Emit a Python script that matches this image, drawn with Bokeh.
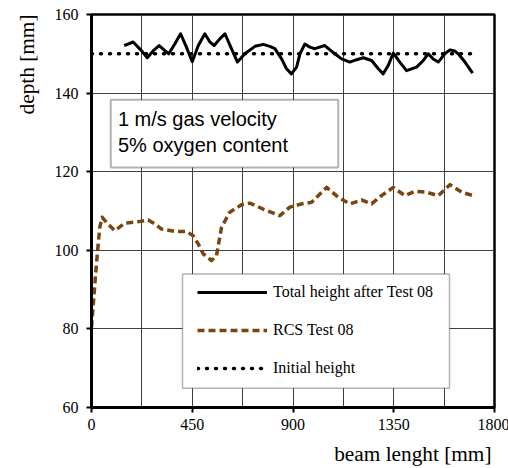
from bokeh.plotting import figure
from bokeh.models import (Range1d, FixedTicker, Label, BoxAnnotation, Legend, LegendItem, Title)
from bokeh.embed import file_html
from bokeh.resources import INLINE

# ---- data ----
total_x = [146, 186, 223, 249, 276, 302, 328, 345, 372, 398, 424, 450, 477, 506, 529,
           548, 573, 596, 625, 652, 685, 730, 767, 797, 819, 849, 871, 893, 916, 931,
           953, 975, 998, 1042, 1087, 1117, 1154, 1184, 1214, 1251, 1281, 1303, 1325,
           1348, 1377, 1407, 1452, 1482, 1504, 1526, 1549, 1578, 1601, 1623, 1638,
           1668, 1702]
total_y = [152.1, 153.0, 150.8, 149.0, 150.8, 152.1, 150.8, 150.0, 152.5, 155.1, 151.7,
           148.0, 152.1, 155.1, 153.0, 152.1, 153.8, 155.1, 151.3, 147.9, 150.0, 151.9,
           152.4, 151.9, 151.3, 148.7, 146.2, 144.9, 146.6, 150.0, 152.5, 151.7, 151.3,
           152.1, 150.0, 148.7, 147.9, 148.5, 149.0, 148.3, 146.2, 144.9, 147.0, 150.2,
           147.9, 145.7, 146.6, 148.3, 150.0, 148.7, 147.9, 150.0, 151.0, 150.7, 150.0,
           147.9, 145.1]

rcs_x = [0, 7, 15, 22, 30, 37, 48, 67, 104, 149, 201, 253, 283, 313, 372, 424, 454,
         477, 499, 536, 558, 581, 618, 670, 707, 767, 841, 886, 938, 983, 1020, 1050,
         1102, 1154, 1206, 1251, 1295, 1348, 1400, 1444, 1496, 1549, 1601, 1653, 1705]
rcs_y = [80.4, 85.5, 91.4, 96.5, 101.6, 105.9, 108.4, 107.1, 105.0, 106.9, 107.2, 107.7,
         106.7, 105.4, 104.8, 104.8, 103.7, 101.6, 99.1, 97.4, 98.6, 105.9, 109.7, 111.6,
         112.0, 110.5, 108.8, 111.0, 111.8, 112.2, 114.3, 116.0, 113.5, 111.8, 112.8,
         111.8, 113.9, 116.0, 113.9, 115.0, 114.8, 113.9, 116.7, 114.8, 113.9]

initial_x = [0, 1700]
initial_y = [150, 150]

x_ticks = [0, 450, 900, 1350, 1800]
x_grid = [225, 450, 675, 900, 1125, 1350, 1575]
y_ticks = [60, 80, 100, 120, 140, 160]

series_names = ["Total height after Test 08", "RCS Test 08", "Initial height"]
box_text = "1 m/s gas velocity\n5% oxygen content"
x_title = "beam lenght [mm]"
y_title = "depth [mm]"

SERIF = "Liberation Serif"

p = figure(width=508, height=468, output_backend="svg", toolbar_location=None,
           x_range=Range1d(0, 1800), y_range=Range1d(60, 160),
           frame_width=403, frame_height=393,
           min_border_left=90, min_border_top=14, min_border_right=15, min_border_bottom=61)

p.background_fill_color = "white"
p.border_fill_color = "white"
p.outline_line_color = "black"
p.outline_line_width = 2.5

for ax in (p.xaxis[0], p.yaxis[0]):
    ax.axis_line_width = 3
    ax.axis_line_color = "black"
    ax.major_tick_line_width = 2
    ax.major_tick_line_color = "black"
    ax.major_tick_out = 5
    ax.major_tick_in = 0
    ax.minor_tick_line_color = None
    ax.major_label_text_font = SERIF
    ax.major_label_text_font_size = "16px"
    ax.major_label_text_color = "black"

p.xaxis[0].ticker = FixedTicker(ticks=x_ticks)
p.yaxis[0].ticker = FixedTicker(ticks=y_ticks)
p.xaxis[0].major_label_standoff = 6
p.yaxis[0].major_label_standoff = 8

p.xgrid[0].ticker = FixedTicker(ticks=x_grid)
p.ygrid[0].ticker = FixedTicker(ticks=y_ticks)
for g in (p.xgrid[0], p.ygrid[0]):
    g.grid_line_color = "#404040"
    g.grid_line_width = 1

r_total = p.line(total_x, total_y, line_color="black", line_width=3, line_join="round")
r_rcs = p.line(rcs_x, rcs_y, line_color="#7a4510", line_width=3.5, line_dash="7 4",
               line_join="round")
r_init = p.line(initial_x, initial_y, line_color="black", line_width=3.5, line_dash="1 8",
                line_cap="round")

# legend frame
p.add_layout(BoxAnnotation(left=406.5, right=1599, top=94.0, bottom=64.9,
                           fill_color="white", fill_alpha=1, line_color="black",
                           line_width=1.5))

legend = Legend(items=[LegendItem(label=series_names[0], renderers=[r_total]),
                       LegendItem(label=series_names[1], renderers=[r_rcs]),
                       LegendItem(label=series_names[2], renderers=[r_init])],
                location=(106, 29), orientation="vertical")
legend.label_text_font = SERIF
legend.label_text_font_size = "16px"
legend.label_text_color = "black"
legend.glyph_width = 70
legend.glyph_height = 20
legend.label_height = 20
legend.label_standoff = 6
legend.spacing = 18
legend.padding = 0
legend.margin = 0
legend.border_line_color = None
legend.background_fill_alpha = 0
p.add_layout(legend, "center")

# text box
p.add_layout(BoxAnnotation(left=86, right=1102, top=138.3, bottom=121.1,
                           fill_color="white", fill_alpha=1, line_color="black", line_width=2))
p.add_layout(Label(x=118, y=136.2, text=box_text, text_font="Liberation Sans",
                   text_font_size="20px", text_baseline="top", text_align="left",
                   text_line_height=1.18, text_color="black"))

# axis titles
p.add_layout(Title(text=y_title, align="right", text_font=SERIF, text_font_size="21.3px",
                   text_font_style="normal", text_color="black", standoff=25), "left")
p.add_layout(Title(text=x_title, align="right", text_font=SERIF, text_font_size="21.3px",
                   text_font_style="normal", text_color="black", standoff=14, offset=3),
             "below")

open("out.html", "w").write(file_html(p, INLINE))
